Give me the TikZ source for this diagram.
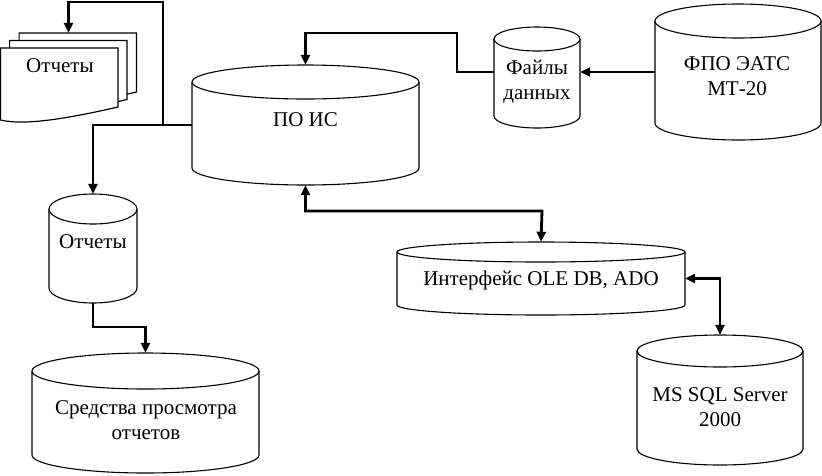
\documentclass[tikz,border=0pt]{standalone}
\usepackage{fontspec}
\setmainfont{Liberation Serif}
\usetikzlibrary{arrows.meta}
\tikzset{
  cylshape/.style={line width=1.1pt, fill=white},
  docshape/.style={line width=1.2pt, fill=white},
  conn/.style={line width=2.8pt, -{Triangle[length=10pt,width=9pt]}},
  dconn/.style={line width=2.8pt, {Triangle[length=10pt,width=9pt]}-{Triangle[length=10pt,width=9pt]}},
  lbl/.style={font=\fontsize{21}{25}\selectfont, align=center, inner sep=0pt},
}
\newcommand{\mycyl}[6]{%
  \draw[cylshape] (#2-#5,#3+#6) -- (#2-#5,#4-#6)
     arc[start angle=180,end angle=360,x radius=#5pt,y radius=#6pt] -- (#2+#5,#3+#6);
  \draw[cylshape] (#2,#3+#6) ellipse[x radius=#5pt,y radius=#6pt];
  \node[inner sep=0pt,minimum width={2*#5pt},minimum height={(#4-#3)*1pt}] (#1) at (#2,{(#3+#4)/2}) {};
}
\newcommand{\mydoc}[2]{%
  \draw[docshape] (#1+0.6,#2+120) -- (#1+0.6,#2+48) -- (#1+118,#2+48) -- (#1+118,#2+107)
     .. controls (#1+70,#2+118) and (#1+25,#2+126) .. (#1+0.6,#2+120) -- cycle;
}
\begin{document}
\begin{tikzpicture}[x=1pt,y=-1pt]
\useasboundingbox[fill=white] (0,0) rectangle (822,475);
% document stack
\mydoc{18.5}{-15}
\mydoc{9}{-7.5}
\mydoc{0}{0}
\node[inner sep=0pt,minimum width=137pt,minimum height=89pt] (reports) at (68.5,77.5) {};
\node[lbl] (reportsT) at (60,66) {Отчеты};
% cylinders
\mycyl{pois}{305.5}{65}{185}{113.5}{17}
\node[lbl] (poisT) at (305.5,120) {ПО ИС};
\mycyl{files}{537}{27}{128}{43}{12}
\node[lbl] (filesT) at (537,82) {Файлы\\данных};
\mycyl{fpo}{738}{4}{140}{83}{17}
\node[lbl] (fpoT) at (737,76) {ФПО ЭАТС\\МТ-20};
\mycyl{rcyl}{93}{194}{303}{44}{15}
\node[lbl] (rcylT) at (93,242) {Отчеты};
\mycyl{viewer}{145.5}{353}{473}{113.5}{18}
\node[lbl] (viewerT) at (146,420) {Средства просмотра\\отчетов};
\mycyl{iface}{541}{242}{315}{144}{10}
\node[lbl] (ifaceT) at (541,280) {Интерфейс OLE DB, ADO};
\mycyl{sql}{720}{335}{465}{83}{16}
\node[lbl] (sqlT) at (720,407) {MS SQL Server\\2000};
% connectors
\coordinate (j1) at (163,125);
\coordinate (j2) at (542,211);
\draw[conn] (fpo.west) -- (files.east |- fpo.west);
\draw[conn] (files.west |- fpo.west) -| (457,33) -| (pois.north);
\draw[conn] (pois.west) -| (rcyl.north);
\draw[conn] (j1) -- (j1 |- 0,2) -| (reports.north);
\draw[conn] (rcyl.south) |- (145.5,327) -- (viewer.north);
\draw[dconn] (pois.south) |- (j2) -- (iface.north);
\draw[dconn] (iface.east) -| (sql.north);
\end{tikzpicture}
\end{document}
